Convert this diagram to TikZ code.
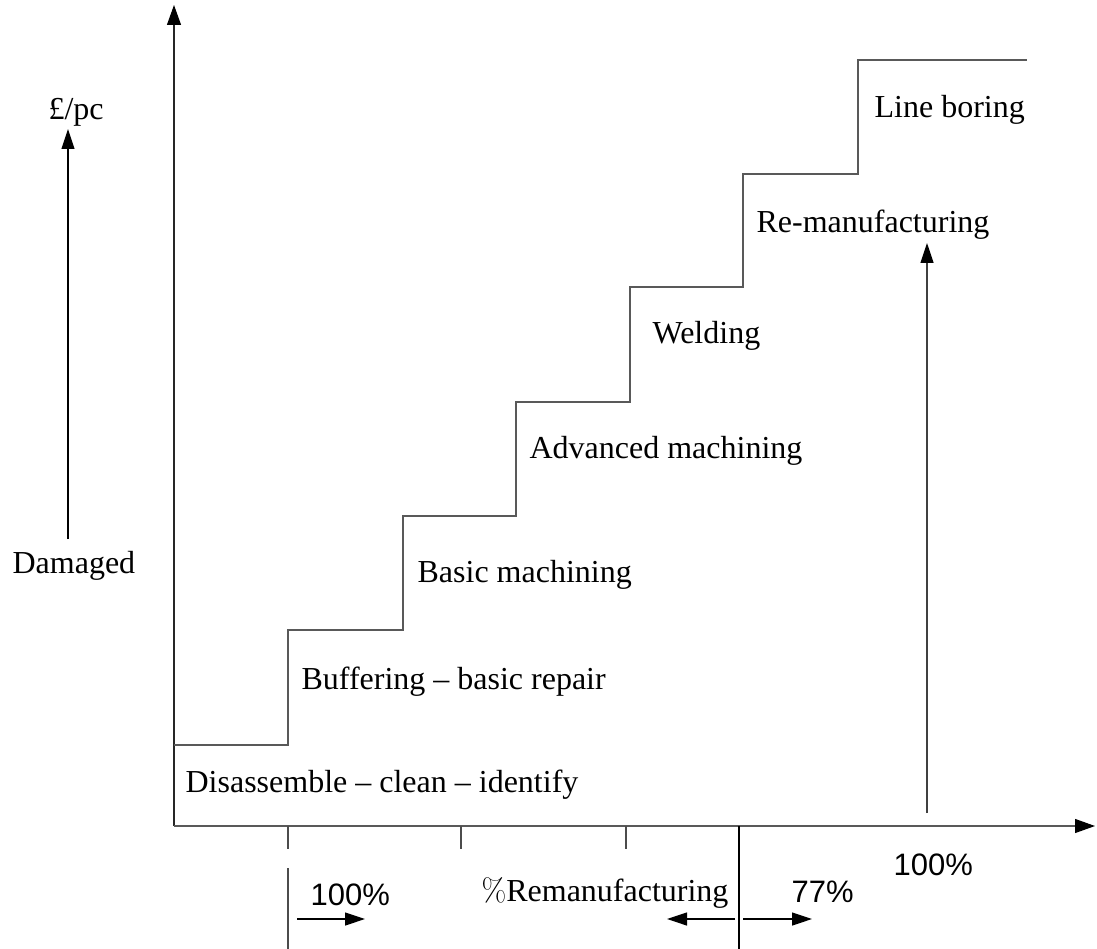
\documentclass[tikz,border=0pt]{standalone}
\usepackage{fontspec}
\setmainfont{Liberation Serif}
\newfontfamily\sansf{Liberation Sans}
\newfontfamily\lmrm{Latin Modern Roman}
\usetikzlibrary{arrows.meta}
\begin{document}
\begin{tikzpicture}[x=1pt,y=-1pt, line width=1.2pt,
  lbl/.style={anchor=base west, inner sep=0pt, font=\fontsize{32}{38}\selectfont},
  pct/.style={anchor=base west, inner sep=0pt, font=\sansf\fontsize{31}{37}\selectfont},
  stair/.style={draw=black!65},
  axis/.style={-{Triangle[length=20pt,width=14pt,fill=black,color=black]}},
  arr/.style={-{Triangle[length=20pt,width=13pt,fill=black,color=black]}},
  tickline/.style={draw=black!70}]
\useasboundingbox (0,0) rectangle (1097,949);
% axes
\coordinate (O) at (174,826);
\coordinate (ytip) at (174,5);
\coordinate (xtip) at (1095,826);
\draw[axis, draw=black!85] (O) -- (ytip);
\draw[axis, draw=black!65] (O) -- (xtip);
% staircase
\coordinate (s0) at (174,745);
\coordinate (s1) at (288,630);
\coordinate (s2) at (403,516);
\coordinate (s3) at (516,402);
\coordinate (s4) at (630,287);
\coordinate (s5) at (743,174);
\coordinate (s6) at (858,60);
\coordinate (s7) at (1027,60);
\draw[stair] (s0) -| (s1) -| (s2) -| (s3) -| (s4) -| (s5) -| (s6) -- (s7);
% ticks
\coordinate (t1a) at (288,826); \coordinate (t1b) at (288,849);
\coordinate (t1c) at (288,868); \coordinate (t1d) at (288,949);
\coordinate (t2a) at (461,826); \coordinate (t2b) at (461,849);
\coordinate (t3a) at (626,826); \coordinate (t3b) at (626,849);
\coordinate (t4a) at (739,826); \coordinate (t4b) at (739,949);
\draw[tickline] (t1a) -- (t1b);
\draw[tickline] (t1c) -- (t1d);
\draw[tickline] (t2a) -- (t2b);
\draw[tickline] (t3a) -- (t3b);
\draw[draw=black] (t4a) -- (t4b);
% small arrows
\coordinate (a1s) at (297,919); \coordinate (a1e) at (365,919);
\coordinate (a2s) at (735,919); \coordinate (a2e) at (667,919);
\coordinate (a3s) at (743,919); \coordinate (a3e) at (812,919);
\draw[arr, draw=black] (a1s) -- (a1e);
\draw[arr, draw=black] (a2s) -- (a2e);
\draw[arr, draw=black] (a3s) -- (a3e);
% vertical arrows
\coordinate (p1s) at (68,539); \coordinate (p1e) at (68,129);
\coordinate (r1s) at (927,813); \coordinate (r1e) at (927,243);
\draw[arr, draw=black] (p1s) -- (p1e);
\draw[arr, draw=black!75] (r1s) -- (r1e);
% labels
\node[lbl] (pc) at (48,120) {£/pc};
\node[lbl] (dam) at (12,573) {Damaged};
\node[lbl] (lb) at (874,118) {Line boring};
\node[lbl] (rem) at (756,233) {Re-manufacturing};
\node[lbl] (wel) at (652,344) {Welding};
\node[lbl] (adv) at (529,458) {Advanced machining};
\node[lbl] (bas) at (417,582) {Basic machining};
\node[lbl] (buf) at (301,689) {Buffering – basic repair};
\node[lbl] (dis) at (185,792) {Disassemble – clean – identify};
\node[lbl] (xl) at (481,901) {{\lmrm\%}Remanufacturing};
\node[pct] (p100a) at (310,905) {100\%};
\node[pct] (p77) at (791,902) {77\%};
\node[pct] (p100b) at (893,875) {100\%};
\end{tikzpicture}
\end{document}
